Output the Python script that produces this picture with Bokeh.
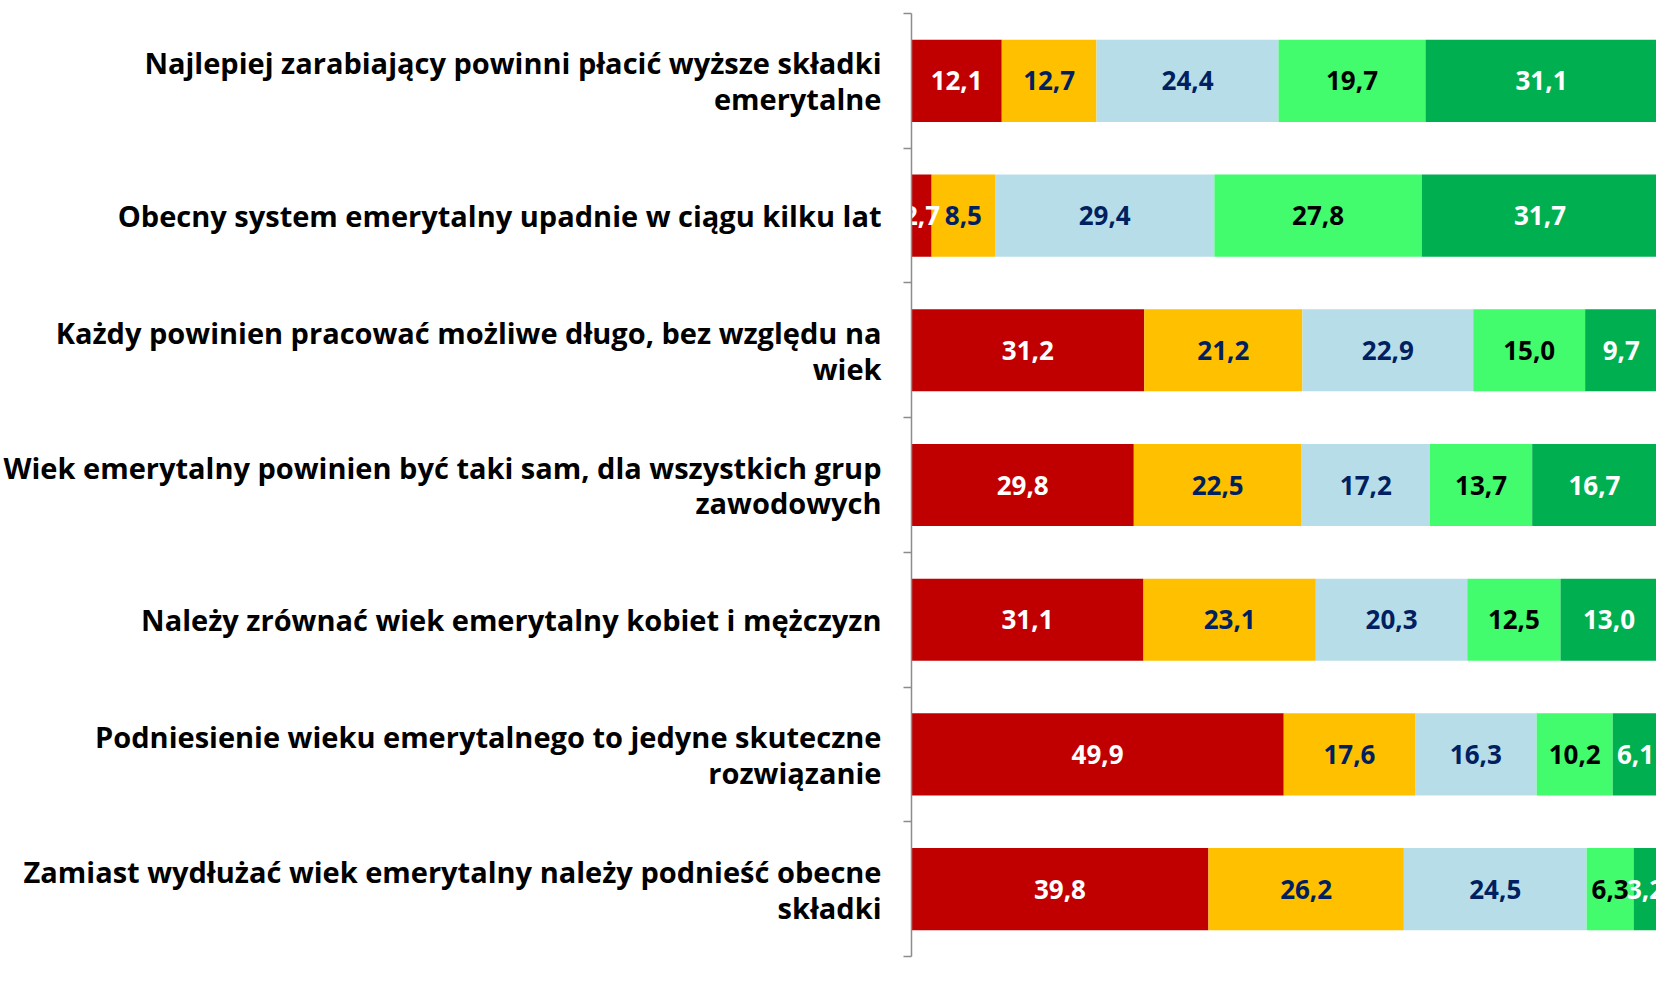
from bokeh.plotting import figure
from bokeh.models import (ColumnDataSource, Range1d, FixedTicker, Legend, LegendItem)
from bokeh.embed import file_html
from bokeh.resources import INLINE
from bokeh.core.properties import value

categories = [
    "Najlepiej zarabiający powinni płacić wyższe składki\nemerytalne",
    "Obecny system emerytalny upadnie w ciągu kilku lat",
    "Każdy powinien pracować możliwe długo, bez względu na\nwiek",
    "Wiek emerytalny powinien być taki sam, dla wszystkich grup\nzawodowych",
    "Należy zrównać wiek emerytalny kobiet i mężczyzn",
    "Podniesienie wieku emerytalnego to jedyne skuteczne\nrozwiązanie",
    "Zamiast wydłużać wiek emerytalny należy podnieść obecne\nskładki",
]
series_names = ["1 - zdecydowanie się nie zgadzam", "2", "3", "4", "5 - zdecydowanie się zgadzam"]
s1 = [12.1, 2.7, 31.2, 29.8, 31.1, 49.9, 39.8]
s2 = [12.7, 8.5, 21.2, 22.5, 23.1, 17.6, 26.2]
s3 = [24.4, 29.4, 22.9, 17.2, 20.3, 16.3, 24.5]
s4 = [19.7, 27.8, 15.0, 13.7, 12.5, 10.2, 6.3]
s5 = [31.1, 31.7, 9.7, 16.7, 13.0, 6.1, 3.2]

colors = ["#C00000", "#FFC000", "#B7DEE8", "#43FC6E", "#00B050"]
label_colors = ["#FFFFFF", "#002060", "#002060", "#000000", "#FFFFFF"]

FONT = "Open Sans"

series = [s1, s2, s3, s4, s5]
keys = ["s1", "s2", "s3", "s4", "s5"]
n = len(categories)
pos = [i + 0.5 for i in range(n)]          # category centres on the y scale
data = {"pos": pos, "cat": categories}
for k, s in zip(keys, series):
    data[k] = s
source = ColumnDataSource(data)

p = figure(width=1656, height=1000, frame_width=746, frame_height=943,
           y_range=Range1d(n, 0), x_range=Range1d(0, 100),
           output_backend="svg", toolbar_location=None,
           x_axis_location=None, y_axis_location="left",
           min_border_left=910, min_border_right=0, min_border_top=13, min_border_bottom=44,
           outline_line_color=None)
p.xgrid.visible = False
p.ygrid.visible = False

renderers = p.hbar_stack(keys, y="pos", height=0.61, color=colors, line_color=None, source=source)

# value labels
lx, ly, lt, lc = [], [], [], []
for i in range(n):
    left = 0.0
    for j, s in enumerate(series):
        v = s[i]
        lx.append(left + v / 2)
        ly.append(pos[i])
        lt.append(f"{v:.1f}".replace(".", ","))
        lc.append(label_colors[j])
        left += v
lab_src = ColumnDataSource(dict(x=lx, y=ly, text=lt, color=lc))
p.text(x="x", y="y", text="text", text_color="color", source=lab_src,
       text_align="center", text_baseline="middle",
       text_font=value(FONT), text_font_style="bold", text_font_size="26px")

ax = p.yaxis[0]
ax.ticker = FixedTicker(ticks=pos, minor_ticks=list(range(n + 1)))
ax.major_label_overrides = {pv: c for pv, c in zip(pos, categories)}
ax.axis_line_color = "#8C8C8C"
ax.axis_line_width = 1.5
ax.major_tick_line_color = None
ax.major_tick_out = 0
ax.major_tick_in = 0
ax.minor_tick_line_color = "#8C8C8C"
ax.minor_tick_line_width = 1.5
ax.minor_tick_out = 8
ax.minor_tick_in = 0
ax.major_label_standoff = 22
ax.major_label_text_font = FONT
ax.major_label_text_font_style = "bold"
ax.major_label_text_font_size = "29px"
ax.major_label_text_color = "#000000"
ax.major_label_text_line_height = 0.92

legend = Legend(items=[LegendItem(label=nm, renderers=[r]) for nm, r in zip(series_names, renderers)],
                orientation="horizontal", nrows=1, location=(-609, 8),
                padding=0, margin=0, spacing=14, label_standoff=5,
                glyph_width=14, glyph_height=17,
                border_line_color=None, background_fill_alpha=0,
                label_text_font=FONT, label_text_font_style="bold",
                label_text_font_size="27px", label_text_color="#000000")
p.add_layout(legend, "below")

open("out.html", "w").write(file_html(p, INLINE))
